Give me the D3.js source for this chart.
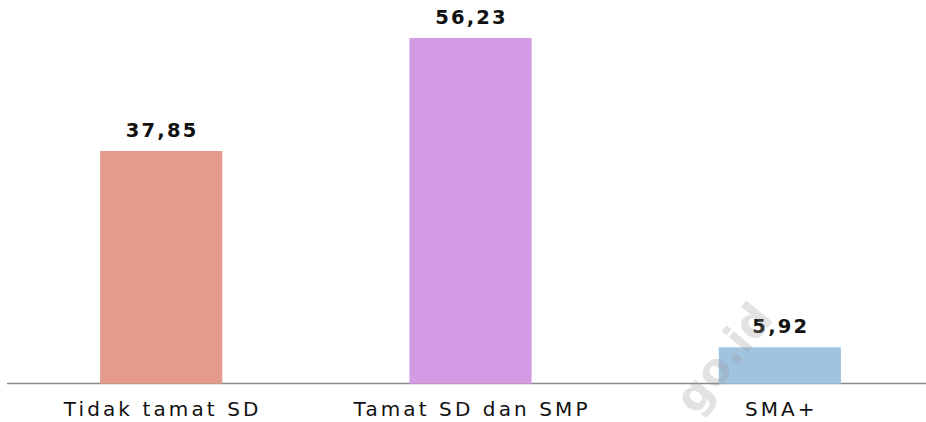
<!DOCTYPE html>
<html><head><meta charset="utf-8">
<script src="https://cdn.jsdelivr.net/npm/d3@7"></script>
<style>body{margin:0;background:#fff;}svg{display:block;}</style>
</head><body>
<svg id="chart" width="926" height="422"></svg>
<script>
const categories = ["Tidak tamat SD", "Tamat SD dan SMP", "SMA+"];
const values = [37.85, 56.23, 5.92];
const valueLabels = ["37,85", "56,23", "5,92"];
const colors = ["#E49B8C", "#D39BE4", "#A0C4E0"];

const svg = d3.select("#chart");
const W = 926, H = 422;
const xs = d3.scaleBand().domain(categories).range([6.5, 934.5]).paddingInner(0.605).paddingOuter(0.3025);
const y = d3.scaleLinear().domain([0, 56.23]).range([383.7, 38]);

svg.append("line").attr("x1", 7).attr("x2", W).attr("y1", 383.5).attr("y2", 383.5)
  .attr("stroke", "#8a8a8a").attr("stroke-width", 1.5);

svg.selectAll("rect.bar").data(values).join("rect").attr("class", "bar")
  .attr("x", (d, i) => xs(categories[i]))
  .attr("width", xs.bandwidth())
  .attr("y", d => y(d))
  .attr("height", d => y(0) - y(d))
  .attr("fill", (d, i) => colors[i]);

svg.selectAll("text.val").data(values).join("text").attr("class", "val")
  .attr("x", (d, i) => xs(categories[i]) + xs.bandwidth() / 2 + 1)
  .attr("y", d => y(d) - 14)
  .attr("text-anchor", "middle")
  .attr("font-family", "DejaVu Sans")
  .attr("font-weight", "bold")
  .attr("font-size", 19.5)
  .attr("letter-spacing", 2.2)
  .attr("fill", "#111")
  .text((d, i) => valueLabels[i]);

svg.selectAll("text.cat").data(categories).join("text").attr("class", "cat")
  .attr("x", d => xs(d) + xs.bandwidth() / 2 + 1.5)
  .attr("y", 416)
  .attr("text-anchor", "middle")
  .attr("font-family", "DejaVu Sans")
  .attr("font-size", 20)
  .attr("letter-spacing", 3.1)
  .attr("fill", "#111")
  .text(d => d);

svg.append("text")
  .attr("transform", "translate(726,360) rotate(-51)")
  .attr("text-anchor", "middle")
  .attr("dominant-baseline", "middle")
  .attr("font-family", "DejaVu Sans")
  .attr("font-weight", "bold")
  .attr("font-size", 44)
  .attr("fill", "#999999")
  .attr("opacity", 0.28)
  .text("go.id");
</script>
</body></html>
